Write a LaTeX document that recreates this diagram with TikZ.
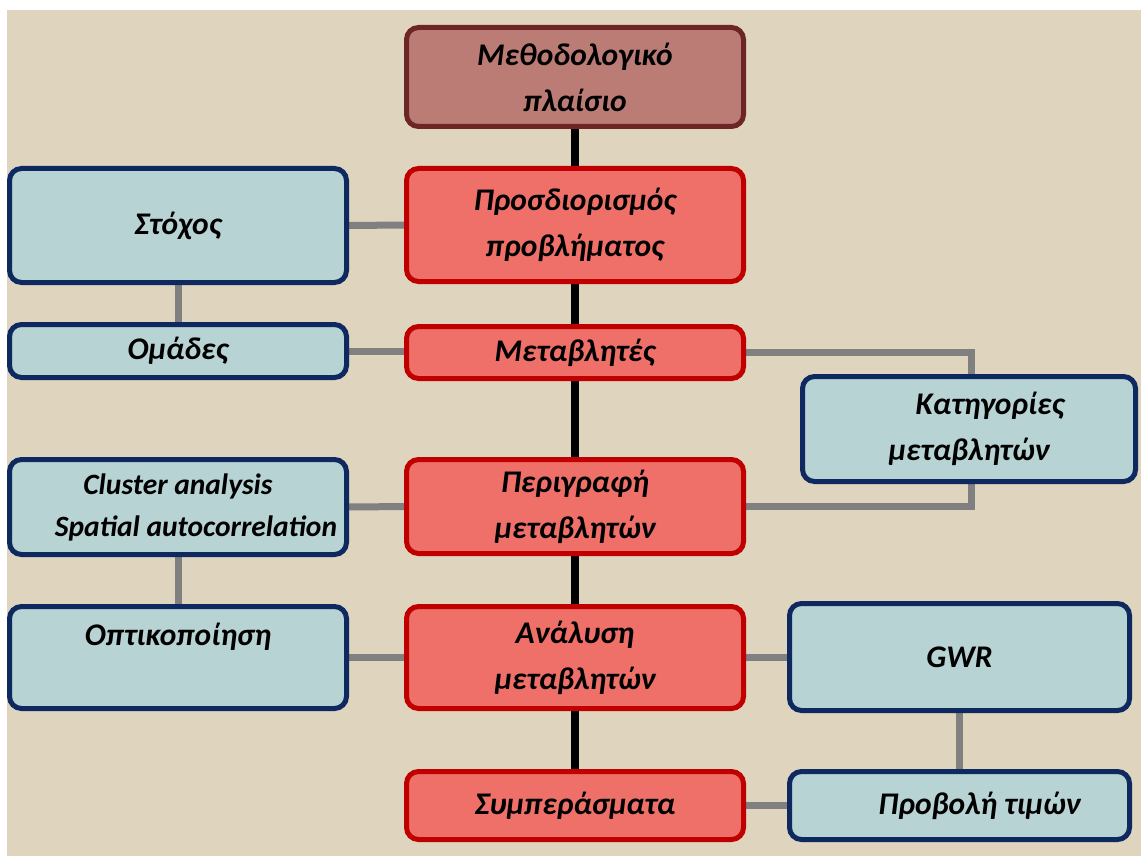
\documentclass[tikz,border=0pt]{standalone}
\usepackage{fontspec}
\setmainfont{Carlito}
\usetikzlibrary{positioning}
\pgfdeclarelayer{background}
\pgfsetlayers{background,main}
\definecolor{paper}{RGB}{223,212,190}
\definecolor{redfill}{RGB}{238,112,104}
\definecolor{redline}{RGB}{192,0,0}
\definecolor{topfill}{RGB}{188,124,118}
\definecolor{topline}{RGB}{108,38,38}
\definecolor{bluefill}{RGB}{184,211,211}
\definecolor{blueline}{RGB}{14,40,96}
\begin{document}
\begin{tikzpicture}[x=1pt,y=-1pt,
  box/.style={rounded corners=12pt,line width=5pt,align=center,inner sep=0pt,
    font=\fontsize{31.5}{46}\selectfont\bfseries\itshape},
  topbox/.style={box,draw=topline,fill=topfill},
  redbox/.style={box,draw=redline,fill=redfill},
  bluebox/.style={box,draw=blueline,fill=bluefill},
  link/.style={draw=gray,line width=7pt},
  spine/.style={draw=black,line width=8pt}]
\useasboundingbox (0,0) rectangle (1141,856);
% middle column
\node [topbox,minimum width=337pt,minimum height=99pt] (frame) at (575,77) {Μεθοδολογικό\\πλαίσιο};
\node [redbox,minimum width=337pt,minimum height=113pt] (problem) at (575,225) {Προσδιορισμός\\προβλήματος};
\node [redbox,minimum width=337pt,minimum height=52pt] (vars) at (575,352.5) {Μεταβλητές};
\node [redbox,minimum width=337pt,minimum height=94pt] (describe) at (575,506.5) {Περιγραφή\\μεταβλητών};
\node [redbox,minimum width=337pt,minimum height=102pt] (analyse) at (575,657.5) {Ανάλυση\\μεταβλητών};
\node [redbox,minimum width=337pt,minimum height=68pt] (results) at (575,805.5) {Συμπεράσματα};
% left column
\node [bluebox,minimum width=337pt,minimum height=114pt] (goal) at (178,225.5) {Στόχος};
\node [bluebox,minimum width=337pt,minimum height=53pt] (groups) at (178,351) {Ομάδες};
\node [bluebox,minimum width=337pt,minimum height=95pt,font=\fontsize{29.5}{42}\selectfont\bfseries\itshape] (cluster) at (178,507) {Cluster analysis\\\hspace*{36pt}Spatial autocorrelation};
\node [bluebox,minimum width=337pt,minimum height=102pt] (visual) at (178,657.5) {Οπτικοποίηση\\\mbox{}};
% right column
\node [bluebox,minimum width=333pt,minimum height=105pt] (categories) at (969,429) {\hspace*{42pt}Κατηγορίες\\μεταβλητών};
\node [bluebox,minimum width=340pt,minimum height=107pt] (gwr) at (959.5,657) {GWR};
\node [bluebox,minimum width=340pt,minimum height=68pt] (project) at (959.5,805.5) {\hspace*{40pt}Προβολή τιμών};
\coordinate (catline) at (971,430);
\begin{pgfonlayer}{background}
\fill [white] (0,0) rectangle (1141,856);
\fill [paper] (7,10) rectangle (1141,856);
\draw [spine] (frame) -- (results);
\draw [link] (goal) -- (problem);
\draw [link] (goal) -- (groups);
\draw [link] (groups) -- (groups -| vars);
\draw [link] (vars) -| (catline) |- (describe);
\draw [link] (cluster) -- (describe);
\draw [link] (cluster) -- (visual);
\draw [link] (visual) -- (analyse);
\draw [link] (analyse) -- (analyse -| gwr);
\draw [link] (gwr) -- (project);
\draw [link] (results) -- (project);
\end{pgfonlayer}
\end{tikzpicture}
\end{document}
